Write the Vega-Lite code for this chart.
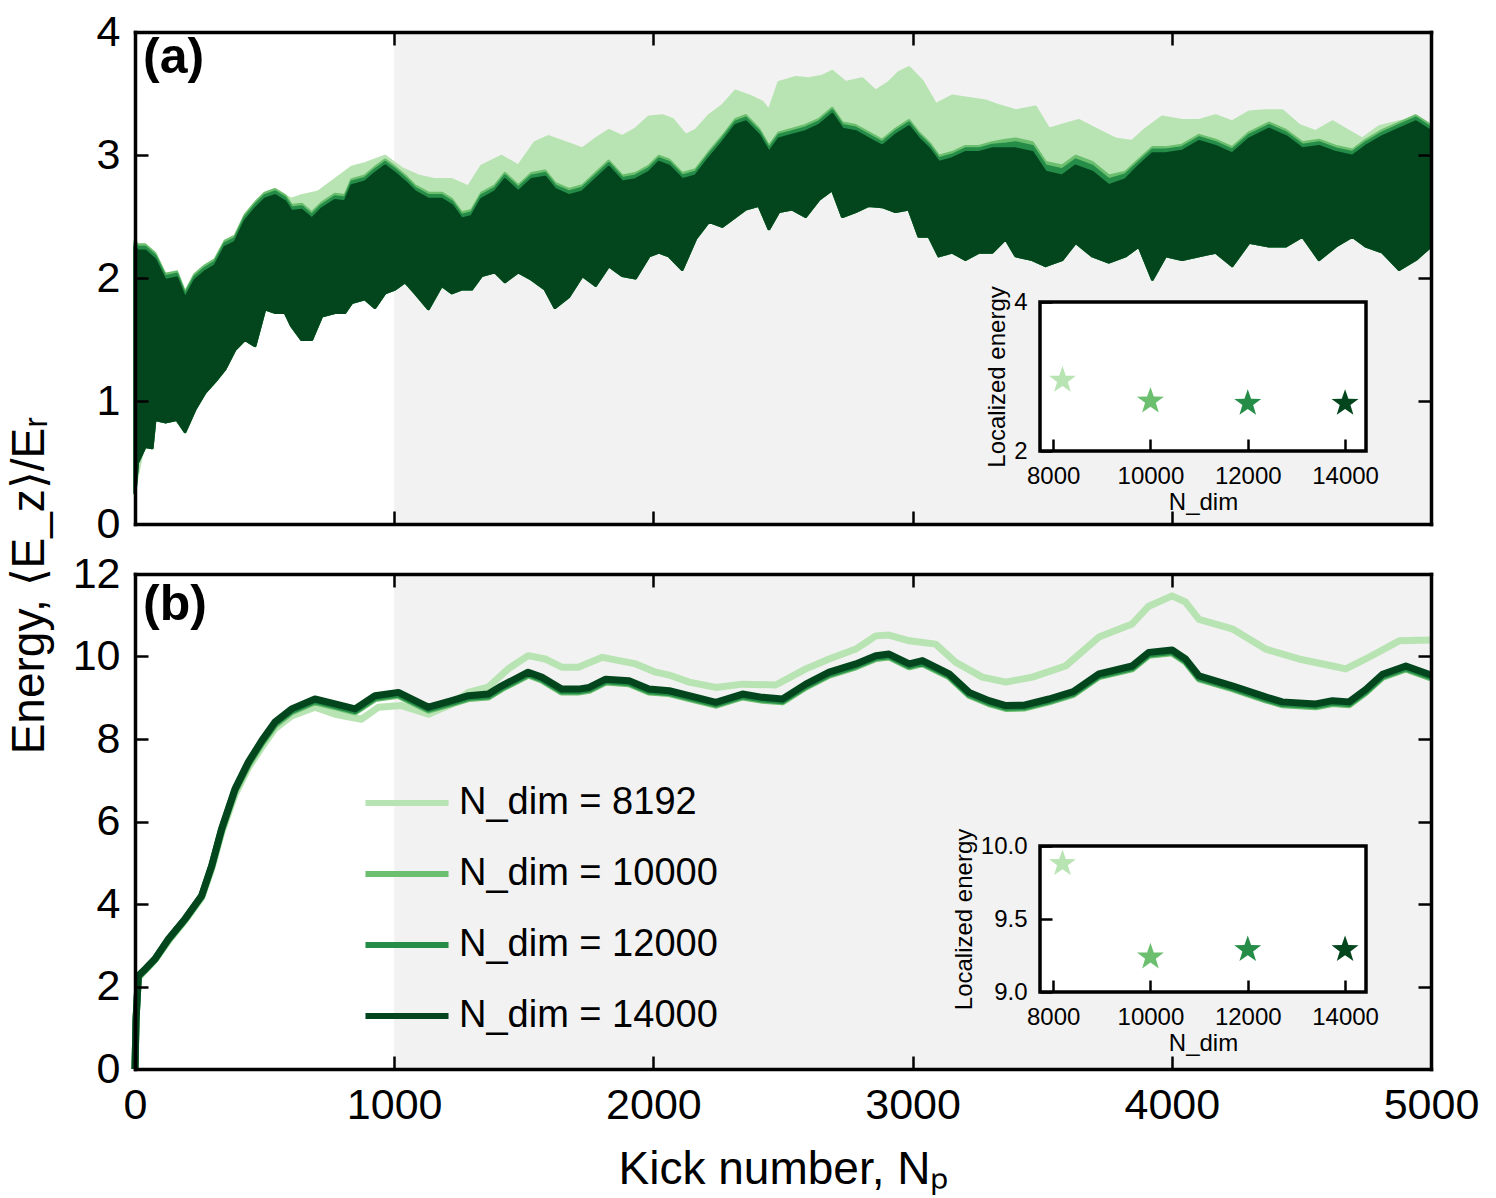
{
  "$schema": "https://vega.github.io/schema/vega-lite/v6.json",
  "background": "white",
  "padding": {"left": 6, "top": 11, "right": 10, "bottom": 3},
  "config": {
    "font": "Liberation Sans",
    "view": {"stroke": null},
    "axis": {
      "grid": false, "domainColor": "black", "domainWidth": 3.5, "domainCap": "square",
      "tickColor": "black", "tickWidth": 2.5, "tickSize": -13,
      "labelFontSize": 43, "labelColor": "black", "labelPadding": 28, "labelFlush": false,
      "titleFontSize": 46, "titleFontWeight": "normal", "titleColor": "black", "zindex": 1
    }
  },
  "datasets": {
    "aDark": [
      {"k":0,"lo":0.25,"h10":2.30,"h12":2.28,"h14":2.25},
      {"k":10,"lo":0.5,"h10":2.27,"h12":2.25,"h14":2.22},
      {"k":39,"lo":0.63,"h10":2.27,"h12":2.25,"h14":2.22},
      {"k":66,"lo":0.62,"h10":2.22,"h12":2.20,"h14":2.17},
      {"k":77,"lo":0.85,"h10":2.20,"h12":2.18,"h14":2.15},
      {"k":116,"lo":0.83,"h10":2.03,"h12":2.01,"h14":1.98},
      {"k":161,"lo":0.85,"h10":2.05,"h12":2.03,"h14":2.0},
      {"k":193,"lo":0.75,"h10":1.88,"h12":1.86,"h14":1.83},
      {"k":231,"lo":0.93,"h10":2.03,"h12":2.01,"h14":1.98},
      {"k":270,"lo":1.07,"h10":2.10,"h12":2.08,"h14":2.05},
      {"k":309,"lo":1.16,"h10":2.15,"h12":2.13,"h14":2.1},
      {"k":347,"lo":1.26,"h10":2.30,"h12":2.28,"h14":2.25},
      {"k":386,"lo":1.42,"h10":2.34,"h12":2.32,"h14":2.29},
      {"k":424,"lo":1.5,"h10":2.51,"h12":2.49,"h14":2.46},
      {"k":463,"lo":1.45,"h10":2.61,"h12":2.59,"h14":2.56},
      {"k":501,"lo":1.75,"h10":2.69,"h12":2.67,"h14":2.64},
      {"k":540,"lo":1.72,"h10":2.72,"h12":2.70,"h14":2.67},
      {"k":579,"lo":1.72,"h10":2.67,"h12":2.65,"h14":2.62},
      {"k":604,"lo":1.61,"h10":2.59,"h12":2.57,"h14":2.54},
      {"k":643,"lo":1.5,"h10":2.60,"h12":2.58,"h14":2.55},
      {"k":682,"lo":1.5,"h10":2.53,"h12":2.51,"h14":2.48},
      {"k":720,"lo":1.69,"h10":2.61,"h12":2.59,"h14":2.56},
      {"k":771,"lo":1.72,"h10":2.68,"h12":2.66,"h14":2.63},
      {"k":810,"lo":1.72,"h10":2.67,"h12":2.65,"h14":2.62},
      {"k":836,"lo":1.8,"h10":2.80,"h12":2.78,"h14":2.75},
      {"k":887,"lo":1.83,"h10":2.83,"h12":2.81,"h14":2.78},
      {"k":926,"lo":1.76,"h10":2.90,"h12":2.88,"h14":2.85},
      {"k":965,"lo":1.88,"h10":2.96,"h12":2.94,"h14":2.91},
      {"k":1003,"lo":1.91,"h10":2.90,"h12":2.88,"h14":2.85},
      {"k":1042,"lo":1.97,"h10":2.83,"h12":2.81,"h14":2.78},
      {"k":1080,"lo":1.88,"h10":2.75,"h12":2.73,"h14":2.7},
      {"k":1132,"lo":1.75,"h10":2.69,"h12":2.67,"h14":2.64},
      {"k":1183,"lo":1.94,"h10":2.69,"h12":2.67,"h14":2.64},
      {"k":1222,"lo":1.88,"h10":2.64,"h12":2.62,"h14":2.59},
      {"k":1260,"lo":1.91,"h10":2.53,"h12":2.51,"h14":2.48},
      {"k":1299,"lo":1.91,"h10":2.55,"h12":2.53,"h14":2.5},
      {"k":1337,"lo":2.02,"h10":2.69,"h12":2.67,"h14":2.64},
      {"k":1389,"lo":2.05,"h10":2.75,"h12":2.73,"h14":2.7},
      {"k":1427,"lo":1.97,"h10":2.85,"h12":2.83,"h14":2.8},
      {"k":1479,"lo":2.05,"h10":2.75,"h12":2.73,"h14":2.7},
      {"k":1530,"lo":1.99,"h10":2.85,"h12":2.83,"h14":2.8},
      {"k":1582,"lo":1.91,"h10":2.87,"h12":2.85,"h14":2.82},
      {"k":1620,"lo":1.76,"h10":2.77,"h12":2.75,"h14":2.72},
      {"k":1674,"lo":1.85,"h10":2.72,"h12":2.70,"h14":2.67},
      {"k":1726,"lo":2.02,"h10":2.75,"h12":2.73,"h14":2.7},
      {"k":1777,"lo":1.94,"h10":2.85,"h12":2.83,"h14":2.8},
      {"k":1828,"lo":2.1,"h10":2.95,"h12":2.93,"h14":2.9},
      {"k":1880,"lo":2.02,"h10":2.83,"h12":2.81,"h14":2.78},
      {"k":1931,"lo":2.0,"h10":2.85,"h12":2.83,"h14":2.8},
      {"k":1983,"lo":2.18,"h10":2.91,"h12":2.89,"h14":2.86},
      {"k":2021,"lo":2.21,"h10":2.99,"h12":2.97,"h14":2.94},
      {"k":2060,"lo":2.18,"h10":2.96,"h12":2.94,"h14":2.91},
      {"k":2111,"lo":2.07,"h10":2.85,"h12":2.83,"h14":2.8},
      {"k":2163,"lo":2.32,"h10":2.88,"h12":2.86,"h14":2.83},
      {"k":2214,"lo":2.46,"h10":3.02,"h12":3.00,"h14":2.97},
      {"k":2266,"lo":2.42,"h10":3.15,"h12":3.13,"h14":3.1},
      {"k":2317,"lo":2.5,"h10":3.29,"h12":3.27,"h14":3.24},
      {"k":2356,"lo":2.56,"h10":3.32,"h12":3.30,"h14":3.27},
      {"k":2407,"lo":2.59,"h10":3.21,"h12":3.19,"h14":3.16},
      {"k":2446,"lo":2.4,"h10":3.07,"h12":3.05,"h14":3.02},
      {"k":2484,"lo":2.54,"h10":3.18,"h12":3.16,"h14":3.13},
      {"k":2536,"lo":2.56,"h10":3.21,"h12":3.19,"h14":3.16},
      {"k":2587,"lo":2.5,"h10":3.24,"h12":3.22,"h14":3.19},
      {"k":2639,"lo":2.64,"h10":3.29,"h12":3.27,"h14":3.24},
      {"k":2690,"lo":2.72,"h10":3.38,"h12":3.36,"h14":3.33},
      {"k":2729,"lo":2.5,"h10":3.26,"h12":3.24,"h14":3.21},
      {"k":2780,"lo":2.54,"h10":3.24,"h12":3.22,"h14":3.19},
      {"k":2831,"lo":2.59,"h10":3.18,"h12":3.16,"h14":3.13},
      {"k":2883,"lo":2.58,"h10":3.12,"h12":3.10,"h14":3.07},
      {"k":2934,"lo":2.54,"h10":3.21,"h12":3.19,"h14":3.16},
      {"k":2986,"lo":2.56,"h10":3.28,"h12":3.26,"h14":3.23},
      {"k":3024,"lo":2.34,"h10":3.18,"h12":3.16,"h14":3.13},
      {"k":3063,"lo":2.34,"h10":3.10,"h12":3.08,"h14":3.05},
      {"k":3101,"lo":2.18,"h10":2.99,"h12":2.97,"h14":2.94},
      {"k":3153,"lo":2.21,"h10":3.02,"h12":3.00,"h14":2.97},
      {"k":3204,"lo":2.15,"h10":3.07,"h12":3.05,"h14":3.02},
      {"k":3256,"lo":2.21,"h10":3.07,"h12":3.05,"h14":3.02},
      {"k":3307,"lo":2.21,"h10":3.10,"h12":3.08,"h14":3.05},
      {"k":3359,"lo":2.32,"h10":3.12,"h12":3.09,"h14":3.05},
      {"k":3398,"lo":2.18,"h10":3.13,"h12":3.10,"h14":3.05},
      {"k":3462,"lo":2.15,"h10":3.10,"h12":3.07,"h14":3.02},
      {"k":3513,"lo":2.1,"h10":2.94,"h12":2.91,"h14":2.86},
      {"k":3577,"lo":2.15,"h10":2.91,"h12":2.88,"h14":2.83},
      {"k":3629,"lo":2.29,"h10":2.99,"h12":2.96,"h14":2.91},
      {"k":3693,"lo":2.18,"h10":2.94,"h12":2.91,"h14":2.86},
      {"k":3757,"lo":2.13,"h10":2.83,"h12":2.80,"h14":2.75},
      {"k":3822,"lo":2.18,"h10":2.86,"h12":2.84,"h14":2.8},
      {"k":3873,"lo":2.26,"h10":2.96,"h12":2.94,"h14":2.91},
      {"k":3925,"lo":1.99,"h10":3.06,"h12":3.04,"h14":3.01},
      {"k":3976,"lo":2.18,"h10":3.06,"h12":3.04,"h14":3.01},
      {"k":4040,"lo":2.15,"h10":3.08,"h12":3.06,"h14":3.03},
      {"k":4105,"lo":2.18,"h10":3.16,"h12":3.14,"h14":3.11},
      {"k":4169,"lo":2.21,"h10":3.12,"h12":3.10,"h14":3.07},
      {"k":4233,"lo":2.1,"h10":3.06,"h12":3.04,"h14":3.01},
      {"k":4298,"lo":2.29,"h10":3.18,"h12":3.16,"h14":3.13},
      {"k":4375,"lo":2.26,"h10":3.26,"h12":3.24,"h14":3.21},
      {"k":4440,"lo":2.26,"h10":3.20,"h12":3.18,"h14":3.15},
      {"k":4504,"lo":2.34,"h10":3.10,"h12":3.08,"h14":3.05},
      {"k":4568,"lo":2.15,"h10":3.12,"h12":3.10,"h14":3.07},
      {"k":4633,"lo":2.26,"h10":3.07,"h12":3.05,"h14":3.02},
      {"k":4697,"lo":2.34,"h10":3.04,"h12":3.02,"h14":2.99},
      {"k":4748,"lo":2.26,"h10":3.12,"h12":3.10,"h14":3.07},
      {"k":4813,"lo":2.21,"h10":3.20,"h12":3.18,"h14":3.15},
      {"k":4877,"lo":2.07,"h10":3.26,"h12":3.24,"h14":3.21},
      {"k":4941,"lo":2.15,"h10":3.32,"h12":3.30,"h14":3.27},
      {"k":5000,"lo":2.26,"h10":3.24,"h12":3.22,"h14":3.19}
    ],
    "aLight": [
      {"k":0,"lo":0.3,"hi":2.27},{"k":39,"lo":0.7,"hi":2.24},{"k":77,"lo":0.9,"hi":2.17},
      {"k":116,"lo":0.9,"hi":2.0},{"k":161,"lo":0.9,"hi":2.02},{"k":193,"lo":0.8,"hi":1.85},
      {"k":231,"lo":1.0,"hi":2.0},{"k":270,"lo":1.1,"hi":2.07},{"k":309,"lo":1.2,"hi":2.12},
      {"k":347,"lo":1.3,"hi":2.27},{"k":386,"lo":1.45,"hi":2.31},{"k":424,"lo":1.55,"hi":2.48},
      {"k":463,"lo":1.5,"hi":2.58},{"k":501,"lo":1.8,"hi":2.67},{"k":540,"lo":1.8,"hi":2.71},
      {"k":604,"lo":1.7,"hi":2.64},{"k":643,"lo":1.6,"hi":2.67},{"k":707,"lo":1.7,"hi":2.7},
      {"k":771,"lo":1.8,"hi":2.8},{"k":836,"lo":1.85,"hi":2.9},{"k":887,"lo":1.9,"hi":2.93},
      {"k":965,"lo":1.95,"hi":2.99},{"k":1029,"lo":2.0,"hi":2.89},{"k":1093,"lo":1.95,"hi":2.83},
      {"k":1157,"lo":1.9,"hi":2.8},{"k":1222,"lo":1.95,"hi":2.8},{"k":1286,"lo":2.0,"hi":2.74},
      {"k":1337,"lo":2.1,"hi":2.91},{"k":1414,"lo":2.1,"hi":2.99},{"k":1479,"lo":2.1,"hi":2.91},
      {"k":1543,"lo":2.1,"hi":3.1},{"k":1595,"lo":2.0,"hi":3.15},{"k":1674,"lo":2.0,"hi":3.09},
      {"k":1726,"lo":2.1,"hi":3.05},{"k":1777,"lo":2.05,"hi":3.13},{"k":1828,"lo":2.2,"hi":3.2},
      {"k":1880,"lo":2.1,"hi":3.15},{"k":1931,"lo":2.1,"hi":3.21},{"k":1983,"lo":2.25,"hi":3.31},
      {"k":2034,"lo":2.3,"hi":3.32},{"k":2073,"lo":2.25,"hi":3.29},{"k":2124,"lo":2.2,"hi":3.16},
      {"k":2163,"lo":2.4,"hi":3.2},{"k":2214,"lo":2.5,"hi":3.32},{"k":2266,"lo":2.5,"hi":3.4},
      {"k":2317,"lo":2.6,"hi":3.52},{"k":2369,"lo":2.65,"hi":3.48},{"k":2420,"lo":2.65,"hi":3.43},
      {"k":2446,"lo":2.5,"hi":3.36},{"k":2484,"lo":2.6,"hi":3.59},{"k":2549,"lo":2.65,"hi":3.63},
      {"k":2600,"lo":2.6,"hi":3.62},{"k":2651,"lo":2.7,"hi":3.64},{"k":2690,"lo":2.8,"hi":3.68},
      {"k":2741,"lo":2.6,"hi":3.59},{"k":2806,"lo":2.65,"hi":3.62},{"k":2857,"lo":2.65,"hi":3.52},
      {"k":2909,"lo":2.65,"hi":3.59},{"k":2947,"lo":2.65,"hi":3.67},{"k":2986,"lo":2.65,"hi":3.71},
      {"k":3037,"lo":2.45,"hi":3.6},{"k":3089,"lo":2.3,"hi":3.41},{"k":3153,"lo":2.3,"hi":3.48},
      {"k":3217,"lo":2.25,"hi":3.46},{"k":3281,"lo":2.3,"hi":3.44},{"k":3333,"lo":2.4,"hi":3.4},
      {"k":3398,"lo":2.25,"hi":3.36},{"k":3474,"lo":2.25,"hi":3.39},{"k":3526,"lo":2.2,"hi":3.21},
      {"k":3590,"lo":2.25,"hi":3.25},{"k":3642,"lo":2.35,"hi":3.28},{"k":3706,"lo":2.25,"hi":3.21},
      {"k":3783,"lo":2.2,"hi":3.13},{"k":3847,"lo":2.25,"hi":3.11},{"k":3899,"lo":2.3,"hi":3.21},
      {"k":3963,"lo":2.2,"hi":3.31},{"k":4040,"lo":2.25,"hi":3.28},{"k":4105,"lo":2.25,"hi":3.28},
      {"k":4169,"lo":2.3,"hi":3.32},{"k":4233,"lo":2.2,"hi":3.27},{"k":4298,"lo":2.35,"hi":3.35},
      {"k":4362,"lo":2.35,"hi":3.36},{"k":4426,"lo":2.35,"hi":3.36},{"k":4491,"lo":2.4,"hi":3.24},
      {"k":4555,"lo":2.25,"hi":3.19},{"k":4620,"lo":2.35,"hi":3.27},{"k":4684,"lo":2.4,"hi":3.19},
      {"k":4735,"lo":2.35,"hi":3.13},{"k":4800,"lo":2.3,"hi":3.23},{"k":4877,"lo":2.2,"hi":3.27},
      {"k":4941,"lo":2.25,"hi":3.29},{"k":5000,"lo":2.35,"hi":3.21}
    ],
    "bLines": [
      {"k":0,"8192":0},{"k":4,"8192":1.2},{"k":13,"8192":2.2},{"k":39,"8192":2.4},{"k":77,"8192":2.65},
      {"k":129,"8192":3.1},{"k":193,"8192":3.6},{"k":257,"8192":4.15},{"k":296,"8192":4.85},{"k":334,"8192":5.72},
      {"k":386,"8192":6.65},{"k":437,"8192":7.3},{"k":489,"8192":7.8},{"k":540,"8192":8.25},{"k":604,"8192":8.56},
      {"k":694,"8192":8.77},{"k":772,"8192":8.6},{"k":874,"8192":8.48},{"k":939,"8192":8.77},{"k":1029,"8192":8.81},
      {"k":1132,"8192":8.6},{"k":1222,"8192":8.85},{"k":1286,"8192":9.13},{"k":1363,"8192":9.26},{"k":1440,"8192":9.7},
      {"k":1517,"8192":10.02},{"k":1582,"8192":9.94},{"k":1646,"8192":9.74},{"k":1710,"8192":9.74},{"k":1803,"8192":9.98},
      {"k":1932,"8192":9.82},{"k":2009,"8192":9.62},{"k":2061,"8192":9.55},{"k":2138,"8192":9.38},{"k":2241,"8192":9.25},
      {"k":2344,"8192":9.33},{"k":2472,"8192":9.31},{"k":2588,"8192":9.7},{"k":2678,"8192":9.94},{"k":2781,"8192":10.18},
      {"k":2858,"8192":10.5},{"k":2909,"8192":10.52},{"k":2987,"8192":10.38},{"k":3089,"8192":10.3},{"k":3166,"8192":9.86},
      {"k":3269,"8192":9.5},{"k":3360,"8192":9.38},{"k":3462,"8192":9.5},{"k":3590,"8192":9.77},{"k":3719,"8192":10.47},
      {"k":3847,"8192":10.79},{"k":3911,"8192":11.22},{"k":4001,"8192":11.47},{"k":4053,"8192":11.32},{"k":4105,"8192":10.9},
      {"k":4233,"8192":10.67},{"k":4362,"8192":10.18},{"k":4490,"8192":9.94},{"k":4620,"8192":9.77},{"k":4671,"8192":9.7},
      {"k":4748,"8192":9.94},{"k":4877,"8192":10.38},{"k":5000,"8192":10.4},
      {"k":0,"10000":0,"12000":0,"14000":0},
      {"k":4,"10000":1.2,"12000":1.2,"14000":1.2},
      {"k":13,"10000":2.24,"12000":2.25,"14000":2.26},
      {"k":39,"10000":2.4,"12000":2.41,"14000":2.42},
      {"k":77,"10000":2.65,"12000":2.66,"14000":2.67},
      {"k":129,"10000":3.13,"12000":3.14,"14000":3.15},
      {"k":193,"10000":3.62,"12000":3.63,"14000":3.64},
      {"k":257,"10000":4.18,"12000":4.19,"14000":4.2},
      {"k":296,"10000":4.9,"12000":4.92,"14000":4.93},
      {"k":334,"10000":5.78,"12000":5.8,"14000":5.82},
      {"k":386,"10000":6.74,"12000":6.77,"14000":6.79},
      {"k":437,"10000":7.38,"12000":7.41,"14000":7.44},
      {"k":489,"10000":7.9,"12000":7.93,"14000":7.96},
      {"k":540,"10000":8.34,"12000":8.38,"14000":8.41},
      {"k":604,"10000":8.66,"12000":8.69,"14000":8.73},
      {"k":694,"10000":8.9,"12000":8.93,"14000":8.97},
      {"k":772,"10000":8.78,"12000":8.81,"14000":8.85},
      {"k":849,"10000":8.66,"12000":8.69,"14000":8.73},
      {"k":926,"10000":8.98,"12000":9.01,"14000":9.05},
      {"k":1016,"10000":9.06,"12000":9.09,"14000":9.13},
      {"k":1067,"10000":8.9,"12000":8.93,"14000":8.97},
      {"k":1132,"10000":8.7,"12000":8.73,"14000":8.77},
      {"k":1222,"10000":8.86,"12000":8.89,"14000":8.93},
      {"k":1286,"10000":8.98,"12000":9.01,"14000":9.05},
      {"k":1363,"10000":9.02,"12000":9.05,"14000":9.09},
      {"k":1415,"10000":9.22,"12000":9.25,"14000":9.29},
      {"k":1517,"10000":9.55,"12000":9.58,"14000":9.62},
      {"k":1569,"10000":9.43,"12000":9.46,"14000":9.5},
      {"k":1646,"10000":9.14,"12000":9.17,"14000":9.21},
      {"k":1710,"10000":9.14,"12000":9.17,"14000":9.21},
      {"k":1752,"10000":9.18,"12000":9.21,"14000":9.25},
      {"k":1816,"10000":9.38,"12000":9.41,"14000":9.45},
      {"k":1906,"10000":9.34,"12000":9.37,"14000":9.41},
      {"k":1983,"10000":9.14,"12000":9.17,"14000":9.21},
      {"k":2061,"10000":9.1,"12000":9.13,"14000":9.17},
      {"k":2138,"10000":8.98,"12000":9.01,"14000":9.05},
      {"k":2241,"10000":8.82,"12000":8.85,"14000":8.89},
      {"k":2344,"10000":9.02,"12000":9.05,"14000":9.09},
      {"k":2421,"10000":8.94,"12000":8.97,"14000":9.01},
      {"k":2498,"10000":8.9,"12000":8.93,"14000":8.97},
      {"k":2588,"10000":9.26,"12000":9.29,"14000":9.33},
      {"k":2678,"10000":9.55,"12000":9.58,"14000":9.62},
      {"k":2781,"10000":9.75,"12000":9.78,"14000":9.82},
      {"k":2858,"10000":9.95,"12000":9.98,"14000":10.02},
      {"k":2909,"10000":9.99,"12000":10.02,"14000":10.06},
      {"k":2987,"10000":9.75,"12000":9.78,"14000":9.82},
      {"k":3038,"10000":9.83,"12000":9.86,"14000":9.9},
      {"k":3141,"10000":9.51,"12000":9.54,"14000":9.58},
      {"k":3218,"10000":9.06,"12000":9.09,"14000":9.13},
      {"k":3295,"10000":8.86,"12000":8.89,"14000":8.93},
      {"k":3360,"10000":8.74,"12000":8.77,"14000":8.81},
      {"k":3430,"10000":8.75,"12000":8.78,"14000":8.82},
      {"k":3526,"10000":8.9,"12000":8.93,"14000":8.97},
      {"k":3620,"10000":9.08,"12000":9.11,"14000":9.15},
      {"k":3719,"10000":9.51,"12000":9.54,"14000":9.58},
      {"k":3847,"10000":9.7,"12000":9.73,"14000":9.77},
      {"k":3911,"10000":10.03,"12000":10.06,"14000":10.1},
      {"k":4001,"10000":10.09,"12000":10.12,"14000":10.16},
      {"k":4053,"10000":9.87,"12000":9.9,"14000":9.94},
      {"k":4105,"10000":9.46,"12000":9.49,"14000":9.53},
      {"k":4233,"10000":9.22,"12000":9.25,"14000":9.29},
      {"k":4362,"10000":8.95,"12000":8.98,"14000":9.02},
      {"k":4426,"10000":8.83,"12000":8.86,"14000":8.9},
      {"k":4555,"10000":8.78,"12000":8.81,"14000":8.85},
      {"k":4620,"10000":8.86,"12000":8.89,"14000":8.93},
      {"k":4684,"10000":8.83,"12000":8.86,"14000":8.9},
      {"k":4748,"10000":9.13,"12000":9.16,"14000":9.2},
      {"k":4813,"10000":9.5,"12000":9.53,"14000":9.57},
      {"k":4903,"10000":9.7,"12000":9.73,"14000":9.77},
      {"k":5000,"10000":9.48,"12000":9.51,"14000":9.55}
    ],
    "starsA": [
      {"n":8192,"s":"8192","e":2.95},{"n":10000,"s":"10000","e":2.67},
      {"n":12000,"s":"12000","e":2.64},{"n":14000,"s":"14000","e":2.64}
    ],
    "starsB": [
      {"n":8192,"s":"8192","e":9.88},{"n":10000,"s":"10000","e":9.24},
      {"n":12000,"s":"12000","e":9.29},{"n":14000,"s":"14000","e":9.29}
    ]
  },
  "bounds": "flush",
  "spacing": 50,
  "resolve": {
    "scale": {"x": "independent", "y": "independent", "color": "independent", "fill": "independent"},
    "legend": {"color": "independent"}
  },
  "vconcat": [
    {
      "width": 1296,
      "height": 492,
      "resolve": {"scale": {"x": "independent", "y": "independent"}},
      "layer": [
        {
          "resolve": {"axis": {"x": "independent", "y": "independent"}},
          "layer": [
            {
              "data": {"values": [{"from": 1000, "to": 5000}]},
              "mark": {"type": "rect", "color": "#f2f2f2"},
              "encoding": {
                "x": {"field": "from", "type": "quantitative", "scale": {"domain": [0, 5000], "nice": false},
                      "axis": {"orient": "top", "labels": false, "title": null, "zindex": 1, "values": [0, 1000, 2000, 3000, 4000, 5000]}},
                "x2": {"field": "to"},
                "y": {"datum": 0, "type": "quantitative", "scale": {"domain": [0, 4], "nice": false},
                      "axis": {"orient": "right", "labels": false, "title": null, "zindex": 1, "values": [0, 1, 2, 3, 4]}},
                "y2": {"datum": 4}
              }
            },
            {
              "data": {"name": "aLight"},
              "mark": {"type": "area", "color": "#b8e3b2", "stroke": "#b8e3b2", "strokeWidth": 3, "strokeJoin": "round"},
              "encoding": {
                "x": {"field": "k", "type": "quantitative", "axis": null},
                "y": {"field": "hi", "type": "quantitative", "axis": null},
                "y2": {"field": "lo"}
              }
            },
            {
              "data": {"name": "aDark"},
              "mark": {"type": "area", "color": "#6bbf6e", "stroke": "#6bbf6e", "strokeWidth": 3, "strokeJoin": "round"},
              "encoding": {
                "x": {"field": "k", "type": "quantitative", "axis": null},
                "y": {"field": "h10", "type": "quantitative", "axis": null},
                "y2": {"field": "lo"}
              }
            },
            {
              "data": {"name": "aDark"},
              "mark": {"type": "area", "color": "#258d48", "stroke": "#258d48", "strokeWidth": 3, "strokeJoin": "round"},
              "encoding": {
                "x": {"field": "k", "type": "quantitative", "axis": null},
                "y": {"field": "h12", "type": "quantitative", "axis": null},
                "y2": {"field": "lo"}
              }
            },
            {
              "data": {"name": "aDark"},
              "mark": {"type": "area", "color": "#03461d", "stroke": "#03461d", "strokeWidth": 3, "strokeJoin": "round"},
              "encoding": {
                "x": {"field": "k", "type": "quantitative",
                      "axis": {"orient": "bottom", "labels": false, "title": null, "zindex": 1, "values": [0, 1000, 2000, 3000, 4000, 5000]}},
                "y": {"field": "h14", "type": "quantitative",
                      "axis": {"orient": "left", "values": [0, 1, 2, 3, 4], "zindex": 1, "title": "Energy, ⟨E_z⟩/Eᵣ",
                               "titleX": -106, "titleY": 553, "titleAngle": -90, "titleAlign": "center", "titleBaseline": "middle"}},
                "y2": {"field": "lo"}
              }
            },
            {
              "data": {"values": [{"label": "(a)"}]},
              "mark": {"type": "text", "align": "left", "baseline": "top", "dx": 8, "dy": 1, "fontSize": 50, "fontWeight": "bold", "color": "black"},
              "encoding": {
                "x": {"datum": 0, "type": "quantitative", "axis": null},
                "y": {"datum": 4, "type": "quantitative", "axis": null},
                "text": {"field": "label"}
              }
            }
          ]
        },
        {
          "layer": [
            {
              "data": {"values": [{}]},
              "mark": {"type": "rect", "fill": "white", "stroke": "black", "strokeWidth": 3.5},
              "encoding": {
                "x": {"datum": 7730, "type": "quantitative", "scale": {"domain": [7730, 14430], "range": [905, 1231], "nice": false, "zero": false}},
                "x2": {"datum": 14430},
                "y": {"datum": 2, "type": "quantitative", "scale": {"domain": [2, 4], "range": [419, 270], "nice": false, "zero": false}},
                "y2": {"datum": 4}
              }
            },
            {
              "data": {"name": "starsA"},
              "mark": {"type": "point", "shape": "M0,-1L0.235,-0.324L0.951,-0.309L0.38,0.124L0.588,0.809L0,0.4L-0.588,0.809L-0.38,0.124L-0.951,-0.309L-0.235,-0.324Z", "filled": true, "opacity": 1, "size": 800, "strokeWidth": 0},
              "encoding": {
                "x": {"field": "n", "type": "quantitative",
                      "scale": {"domain": [7730, 14430], "range": [905, 1231], "nice": false, "zero": false},
                      "axis": {"orient": "bottom", "offset": -73, "values": [8000, 10000, 12000, 14000], "format": "d", "domain": false, "zindex": 2,
                               "tickSize": -12, "labelFontSize": 24, "labelPadding": 25, "title": "N_dim", "titleFontSize": 24, "titlePadding": 2}},
                "y": {"field": "e", "type": "quantitative",
                      "scale": {"domain": [2, 4], "range": [419, 270], "nice": false, "zero": false},
                      "axis": {"orient": "left", "offset": -905, "values": [2, 3, 4], "format": "d", "domain": false, "zindex": 2,
                               "tickSize": -12, "labelFontSize": 24, "labelPadding": 25, "title": "Localized energy", "titleFontSize": 24, "titlePadding": 4}},
                "fill": {"field": "s", "type": "nominal", "legend": null,
                         "scale": {"domain": ["8192", "10000", "12000", "14000"], "range": ["#b8e3b2", "#6bbf6e", "#258d48", "#03461d"]}}
              }
            }
          ]
        }
      ]
    },
    {
      "width": 1296,
      "height": 495,
      "resolve": {"scale": {"x": "independent", "y": "independent"}},
      "layer": [
        {
          "resolve": {"axis": {"x": "independent", "y": "independent"}},
          "layer": [
            {
              "data": {"values": [{"from": 1000, "to": 5000}]},
              "mark": {"type": "rect", "color": "#f2f2f2"},
              "encoding": {
                "x": {"field": "from", "type": "quantitative", "scale": {"domain": [0, 5000], "nice": false},
                      "axis": {"orient": "top", "labels": false, "title": null, "zindex": 1, "values": [0, 1000, 2000, 3000, 4000, 5000]}},
                "x2": {"field": "to"},
                "y": {"datum": 0, "type": "quantitative", "scale": {"domain": [0, 12], "nice": false},
                      "axis": {"orient": "right", "labels": false, "title": null, "zindex": 1, "values": [0, 2, 4, 6, 8, 10, 12]}},
                "y2": {"datum": 12}
              }
            },
            {
              "data": {"name": "bLines"},
              "transform": [
                {"fold": ["8192", "10000", "12000", "14000"], "as": ["n", "v"]},
                {"filter": "isValid(datum.v)"}
              ],
              "mark": {"type": "line", "strokeWidth": 7, "strokeJoin": "round"},
              "encoding": {
                "x": {"field": "k", "type": "quantitative",
                      "axis": {"orient": "bottom", "values": [0, 1000, 2000, 3000, 4000, 5000], "format": "d", "zindex": 1, "title": "Kick number, Nₚ", "titlePadding": 20}},
                "y": {"field": "v", "type": "quantitative",
                      "axis": {"orient": "left", "values": [0, 2, 4, 6, 8, 10, 12], "zindex": 1, "title": null}},
                "color": {"field": "n", "type": "nominal",
                          "scale": {"domain": ["8192", "10000", "12000", "14000"], "range": ["#b8e3b2", "#6bbf6e", "#258d48", "#03461d"]},
                          "legend": {"orient": "none", "legendX": 227, "legendY": 184, "zindex": 3, "title": null, "symbolType": "stroke",
                                     "symbolSize": 6900, "symbolStrokeWidth": 6, "labelFontSize": 38, "labelOffset": 7, "labelLimit": 0,
                                     "rowPadding": 7, "labelColor": "black", "labelExpr": "'N_dim = ' + datum.label"}}
              }
            },
            {
              "data": {"values": [{"label": "(b)"}]},
              "mark": {"type": "text", "align": "left", "baseline": "top", "dx": 8, "dy": 6, "fontSize": 50, "fontWeight": "bold", "color": "black"},
              "encoding": {
                "x": {"datum": 0, "type": "quantitative", "axis": null},
                "y": {"datum": 12, "type": "quantitative", "axis": null},
                "text": {"field": "label"}
              }
            }
          ]
        },
        {
          "layer": [
            {
              "data": {"values": [{}]},
              "mark": {"type": "rect", "fill": "white", "stroke": "black", "strokeWidth": 3.5},
              "encoding": {
                "x": {"datum": 7730, "type": "quantitative", "scale": {"domain": [7730, 14430], "range": [905, 1231], "nice": false, "zero": false}},
                "x2": {"datum": 14430},
                "y": {"datum": 9, "type": "quantitative", "scale": {"domain": [9, 10], "range": [418, 272], "nice": false, "zero": false}},
                "y2": {"datum": 10}
              }
            },
            {
              "data": {"name": "starsB"},
              "mark": {"type": "point", "shape": "M0,-1L0.235,-0.324L0.951,-0.309L0.38,0.124L0.588,0.809L0,0.4L-0.588,0.809L-0.38,0.124L-0.951,-0.309L-0.235,-0.324Z", "filled": true, "opacity": 1, "size": 800, "strokeWidth": 0},
              "encoding": {
                "x": {"field": "n", "type": "quantitative",
                      "scale": {"domain": [7730, 14430], "range": [905, 1231], "nice": false, "zero": false},
                      "axis": {"orient": "bottom", "offset": -77, "values": [8000, 10000, 12000, 14000], "format": "d", "domain": false, "zindex": 2,
                               "tickSize": -12, "labelFontSize": 24, "labelPadding": 25, "title": "N_dim", "titleFontSize": 24, "titlePadding": 2}},
                "y": {"field": "e", "type": "quantitative",
                      "scale": {"domain": [9, 10], "range": [418, 272], "nice": false, "zero": false},
                      "axis": {"orient": "left", "offset": -905, "values": [9, 9.5, 10], "format": ".1f", "domain": false, "zindex": 2,
                               "tickSize": -12, "labelFontSize": 24, "labelPadding": 25, "title": "Localized energy", "titleFontSize": 24, "titlePadding": 4}},
                "fill": {"field": "s", "type": "nominal", "legend": null,
                         "scale": {"domain": ["8192", "10000", "12000", "14000"], "range": ["#b8e3b2", "#6bbf6e", "#258d48", "#03461d"]}}
              }
            }
          ]
        }
      ]
    }
  ]
}
